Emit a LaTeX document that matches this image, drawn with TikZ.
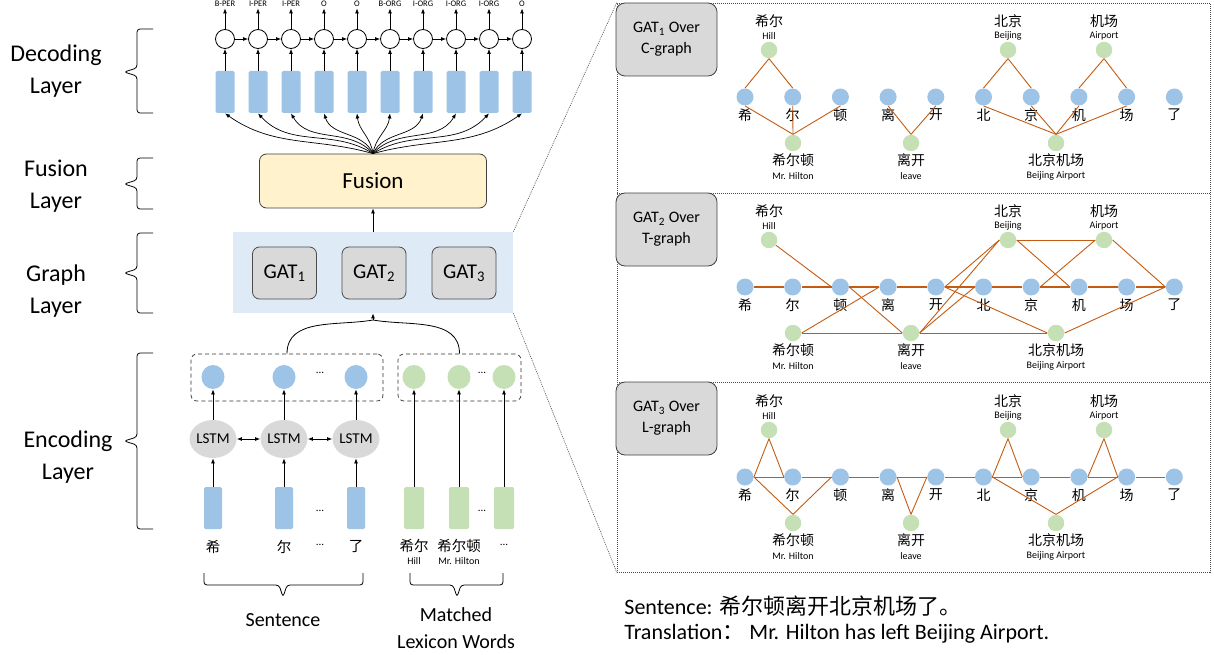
\documentclass[tikz,border=0pt]{standalone}
\usepackage{fontspec}
\setmainfont{Carlito}
\newfontfamily\cjk{Noto Sans CJK SC}
\usetikzlibrary{arrows.meta, shapes.geometric}
\definecolor{hidblue}{HTML}{9DC3E6}
\definecolor{lexgreen}{HTML}{C5E0B4}
\definecolor{cellgray}{HTML}{D9D9D9}
\definecolor{gatbg}{HTML}{DEEBF7}
\definecolor{fusyellow}{HTML}{FFF2CC}
\definecolor{edgeorange}{HTML}{C55A11}
\newcommand{\layerbrace}[3]{\draw[rounded corners=3pt] (153,-#1) -- (137,-#1) -- (137,-#2+4) -- (124,-#2) -- (137,-#2-4) -- (137,-#3) -- (153,-#3);}
\newcommand{\wordbrace}[3]{\draw[rounded corners=3pt] (#1,-573) -- (#1,-585) -- (#2-4,-585) -- (#2,-597) -- (#2+4,-585) -- (#3,-585) -- (#3,-573);}

\begin{document}
\begin{tikzpicture}[x=1pt,y=1pt,line width=0.8pt,>={Latex[length=5pt,width=4pt]},
    layer/.style={align=center,font=\fontsize{24}{32}\selectfont},
    hid/.style={fill=hidblue,rounded corners=1.5pt,minimum width=19pt,minimum height=42pt,inner sep=0pt},
    lexbar/.style={hid,fill=lexgreen,minimum width=20pt},
    crf/.style={circle,draw,fill=white,minimum size=19pt,inner sep=0pt},
    tagtxt/.style={font=\fontsize{8.5}{9}\selectfont,inner sep=1pt},
    fusbox/.style={draw=black!75,fill=fusyellow,rounded corners=7pt,minimum width=227pt,minimum height=54pt,font=\fontsize{23}{26}\selectfont},
    graphbox/.style={fill=gatbg,minimum width=280pt,minimum height=81pt},
    gatbox/.style={draw=black!70,fill=cellgray,rounded corners=7pt,minimum width=64pt,minimum height=52pt,font=\fontsize{21}{24}\selectfont},
    dbox/.style={draw=black!80,dash pattern=on 4pt off 3pt,rounded corners=6pt,line width=0.7pt},
    hstate/.style={ellipse,fill=hidblue,minimum width=23pt,minimum height=24pt,inner sep=0pt},
    lstate/.style={hstate,fill=lexgreen},
    lstm/.style={ellipse,fill=cellgray,minimum width=33pt,minimum height=38pt,inner sep=0pt,font=\fontsize{15}{16}\selectfont},
    zh/.style={font=\cjk\fontsize{14.5}{16}\selectfont,inner sep=0pt},
    en/.style={font=\fontsize{10}{11}\selectfont,inner sep=0pt},
    dots/.style={font=\fontsize{11}{12}\selectfont,inner sep=0pt},
    panel/.style={draw=black!70,dash pattern=on 1pt off 1pt,line width=0.6pt},
    plbl/.style={draw=black!75,fill=cellgray,rounded corners=9pt,minimum width=101pt,minimum height=73pt,align=center,font=\fontsize{16}{21}\selectfont},
    tok/.style={circle,fill=hidblue,minimum size=17pt,inner sep=0pt},
    wrd/.style={circle,fill=lexgreen,minimum size=16.5pt,inner sep=0pt},
    gedge/.style={edgeorange,line width=0.9pt},
    ch/.style={font=\cjk\fontsize{14}{16}\selectfont,inner sep=0pt},
    big/.style={font=\fontsize{22}{26}\selectfont,inner sep=0pt,anchor=west}]
\useasboundingbox (0,0) rectangle (1214,-655);

\node[layer] (declbl) at (56,-71) {Decoding\\Layer};
\node[layer] (fuslbl) at (56,-186) {Fusion\\Layer};
\node[layer] (grlbl) at (56,-291) {Graph\\Layer};
\node[layer] (enclbl) at (68,-457) {Encoding\\Layer};
\layerbrace{29}{72}{113}
\layerbrace{158}{184}{209}
\layerbrace{233}{273}{313}
\layerbrace{353}{441}{529}

\foreach \t [count=\i from 0] in {B-PER,I-PER,I-PER,O,O,B-ORG,I-ORG,I-ORG,I-ORG,O} {
  \node[hid] (hr\i) at (225+33*\i,-92) {};
  \node[crf] (crf\i) at (225+33*\i,-39) {};
  \node[tagtxt,anchor=base] (tag\i) at (225+33*\i,-7) {\t};
  \draw[->] (hr\i) -- (crf\i);
  \draw[->] (crf\i) -- (tag\i);
}
\foreach \i [evaluate=\i as \j using int(\i+1)] in {0,...,8}
  \draw[->] (crf\i) -- (crf\j);

\node[fusbox] (fus) at (373,-181) {Fusion};
\foreach \i [evaluate=\i as \o using 90-0.5*(33*\i-148), evaluate=\i as \n using -90-0.37*(33*\i-148)] in {0,...,9}
  \draw[->,line width=0.7pt] (fus.north) to[out=\o,in=\n] (hr\i.south);

\node[graphbox] (gl) at (373,-272.5) {};
\node[gatbox] (gat1) at (284.5,-273) {GAT\textsubscript{1}};
\node[gatbox] (gat2) at (374,-273) {GAT\textsubscript{2}};
\node[gatbox] (gat3) at (464,-273) {GAT\textsubscript{3}};
\draw[->] (gl.north) -- (fus.south);

\node[dbox,minimum width=192pt,minimum height=47pt] (sbox) at (287,-377.5) {};
\node[dbox,minimum width=123pt,minimum height=47pt] (lbox) at (459.5,-377.5) {};
\coordinate (merge) at (373,-320);
\draw (sbox.north) to[out=90,in=190] (merge);
\draw (lbox.north) to[out=90,in=-10] (merge);
\draw[->] (merge) -- (gl.south);

\foreach \c/\x [count=\i] in {希/213,尔/284,了/356} {
  \node[hstate] (h\i) at (\x,-377) {};
  \node[lstm] (lstm\i) at (\x,-439) {LSTM};
  \node[hid,minimum width=18pt] (w\i) at (\x,-508) {};
  \node[zh] (wc\i) at (\x,-547) {\c};
  \draw[->] (w\i) -- (lstm\i);
  \draw[->] (lstm\i) -- (h\i);
}
\draw[<->] (lstm1) -- (lstm2);
\draw[<->] (lstm2) -- (lstm3);
\node[dots] (hdots) at (320,-373) {...};
\node[dots] (wdots) at (320,-511) {...};
\node[dots] (cdots) at (320,-545) {...};

\foreach \x [count=\i] in {414,459,504} {
  \node[lstate] (g\i) at (\x,-377) {};
  \node[lexbar] (m\i) at (\x,-508) {};
  \draw[->] (m\i) -- (g\i);
}
\node[dots] (gdots) at (482,-373) {...};
\node[dots] (mdots) at (482,-511) {...};
\node[zh] (mz1) at (414,-546) {希尔};
\node[en] (me1) at (414,-561) {Hill};
\node[zh] (mz2) at (459,-546) {希尔顿};
\node[en] (me2) at (459,-561) {Mr. Hilton};
\node[dots] (mz3) at (504,-545) {...};

\wordbrace{204}{283}{363}
\wordbrace{410}{457}{503}
\node[font=\fontsize{20}{27}\selectfont] (sentlbl) at (283,-620) {Sentence};
\node[font=\fontsize{20}{27}\selectfont,align=center] (lexlbl) at (456,-628.5) {Matched\\Lexicon Words};

\node[panel,minimum width=593pt,minimum height=569pt] (pan) at (913.5,-287.5) {};
\draw[panel] (617,-193) -- (1210,-193);
\draw[panel] (617,-382) -- (1210,-382);
\draw[panel] (gl.north east) -- (pan.north west);
\draw[panel] (gl.south east) -- (pan.south west);
\node[plbl] (p1) at (666.5,-39.5) {GAT\textsubscript{1} Over\\C-graph};
\node[plbl] (p2) at (666.5,-229.5) {GAT\textsubscript{2} Over\\T-graph};
\node[plbl] (p3) at (666.5,-418.5) {GAT\textsubscript{3} Over\\L-graph};

\foreach \p/\B in {1/97,2/287,3/477} {
  \foreach \c [count=\i from 0] in {希,尔,顿,离,开,北,京,机,场,了} {
    \node[tok] (ch\p-\i) at (745+47.7*\i,-\B) {};
    \node[ch] (cl\p-\i) at (745+47.7*\i,-\B-18) {\c};
  }
  \foreach \n/\x/\dy/\zy/\ey/\z/\e in {hill/769/47/76/61/希尔/Hill, bj/1008/47/76/61/北京/Beijing, ap/1104/47/76/61/机场/Airport, hilton/793/-46/-63/-79/希尔顿/Mr. Hilton, leave/911/-46/-63/-79/离开/leave, bjap/1056/-46/-63/-79/北京机场/Beijing Airport} {
    \node[wrd] (\n\p) at (\x,\dy-\B) {};
    \node[ch] (\n z\p) at (\x,\zy-\B) {\z};
    \node[en] (\n e\p) at (\x,\ey-\B) {\e};
  }
}

\foreach \a/\b in {hill1.south/ch1-0.north, hill1.south/ch1-1.north, bj1.south/ch1-5.north, bj1.south/ch1-6.north, ap1.south/ch1-7.north, ap1.south/ch1-8.north, hilton1.north/ch1-0.south, hilton1.north/ch1-1.south, hilton1.north/ch1-2.south, leave1.north/ch1-3.south, leave1.north/ch1-4.south, bjap1.north/ch1-5.south, bjap1.north/ch1-6.south, bjap1.north/ch1-7.south, bjap1.north/ch1-8.south}
  \draw[gedge] (\a) -- (\b);

\foreach \i [evaluate=\i as \j using int(\i+1)] in {0,...,8} {
  \draw[gedge,line width=1.4pt] (ch2-\i) -- (ch2-\j);
  \draw[gedge] (ch3-\i) -- (ch3-\j);
}
\foreach \a/\b in {hill2/ch2-2.west, hilton2.east/ch2-3.west, hilton2.east/leave2.west, ch2-2.east/leave2.west, leave2.east/ch2-5.west, leave2.east/bj2.west, leave2.east/bjap2.west, ch2-4.east/bj2.west, ch2-4.east/bjap2.west, bj2.east/ap2.west, bj2.east/ch2-7.west, ch2-6.east/ap2.west, ap2.east/ch2-9.west, bjap2.east/ch2-9.west}
  \draw[gedge] (\a) -- (\b);

\foreach \a/\b in {hill3.south/ch3-0.east, hill3.south/ch3-1.west, hilton3.north/ch3-0.east, hilton3.north/ch3-2.west, leave3.north/ch3-3.east, leave3.north/ch3-4.west, bj3.south/ch3-5.east, bj3.south/ch3-6.west, ap3.south/ch3-7.east, ap3.south/ch3-8.west, bjap3.north/ch3-5.east, bjap3.north/ch3-8.west}
  \draw[gedge] (\a) -- (\b);

\node[big] (sent) at (624,-606) {Sentence: {\cjk 希尔顿离开北京机场了。}};
\node[big] (trans) at (624,-634) {Translation{\cjk ：} Mr. Hilton has left Beijing Airport.};
\end{tikzpicture}
\end{document}
